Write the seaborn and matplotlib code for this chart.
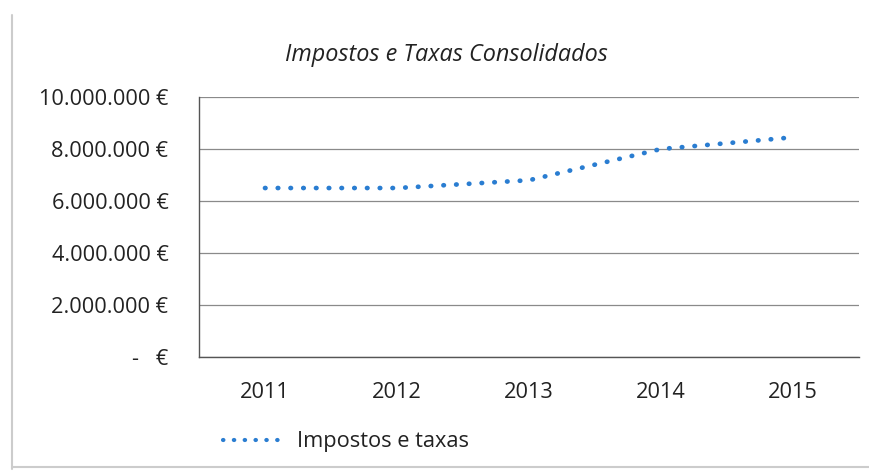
import numpy as np
import pandas as pd
import matplotlib
matplotlib.use("Agg")
import matplotlib.pyplot as plt
import seaborn as sns
from matplotlib.lines import Line2D
from matplotlib.ticker import FuncFormatter, FixedLocator

# --- DATA ---
years = ["2011", "2012", "2013", "2014", "2015"]
impostos = [6500000, 6500000, 6800000, 8000000, 8450000]
series_name = "Impostos e taxas"
title = "Impostos e Taxas Consolidados"

LINE_COLOR = "#2A7DD1"
FS = 15.7

sns.set_theme(style="white")
plt.rcParams["font.family"] = ["Open Sans", "DejaVu Sans"]

df = pd.DataFrame({"year": years, "value": impostos, "pos": range(len(years))})

fig = plt.figure(figsize=(8.69, 4.71), dpi=100)
ax = fig.add_axes([0.229, 0.242, 0.7595, 0.552])

sns.lineplot(data=df, x="pos", y="value", ax=ax, color=LINE_COLOR,
             linewidth=3.4, label=series_name)
line = ax.get_lines()[0]
line.set_linestyle((0, (0.1, 2.6)))
line.set_dash_capstyle("round")

# axes
ax.set_xlim(-0.5, len(years) - 0.5)
ax.set_ylim(0, 10000000)
ax.yaxis.set_major_locator(FixedLocator(np.arange(0, 10000001, 2000000)))


def euro_fmt(v, _):
    if v == 0:
        return "-   €"
    return f"{int(v):,}".replace(",", ".") + " €"


ax.yaxis.set_major_formatter(FuncFormatter(euro_fmt))
ax.set_xticks(range(len(years)))
ax.set_xticklabels(years)
ax.set_xticks(np.arange(-0.5, len(years)), minor=True)
ax.tick_params(axis="x", which="major", length=0, pad=18, labelsize=FS, colors="#222222")
ax.tick_params(axis="x", which="minor", length=7, width=1, color="#555555", direction="out")
ax.tick_params(axis="y", which="major", length=7, width=1, color="#555555",
               direction="out", pad=15, labelsize=FS, labelcolor="#222222")
ax.set_xlabel("")
ax.set_ylabel("")

ax.grid(True, axis="y", color="#8a8a8a", linewidth=0.9)
ax.grid(False, axis="x")
for s in ["top", "right"]:
    ax.spines[s].set_visible(False)
ax.spines["left"].set_color("#555555")
ax.spines["bottom"].set_color("#555555")
ax.spines["left"].set_linewidth(1)
ax.spines["bottom"].set_linewidth(1)

fig.text(446 / 869, 1 - 55 / 471, title, ha="center", va="center",
         fontsize=16.8, style="italic", color="#222222")

handle = Line2D([], [], color=LINE_COLOR, linewidth=3.0,
                linestyle=(0, (0.1, 2.5)), dash_capstyle="round")
ax.legend([handle], [series_name], loc="center left",
          bbox_to_anchor=(203 / 869, 1 - 442 / 471), bbox_transform=fig.transFigure,
          frameon=False, fontsize=FS, handlelength=3.0, handletextpad=0.4,
          labelcolor="#222222")

# frame of the chart area
fig.add_artist(Line2D([12 / 869, 12 / 869], [0.005, 1 - 15 / 471],
                      transform=fig.transFigure, color="#cccccc", linewidth=1.5))
fig.add_artist(Line2D([12 / 869, 1.0], [1 - 467 / 471, 1 - 467 / 471],
                      transform=fig.transFigure, color="#cccccc", linewidth=1.5))

fig.savefig("out.png", dpi=100)
